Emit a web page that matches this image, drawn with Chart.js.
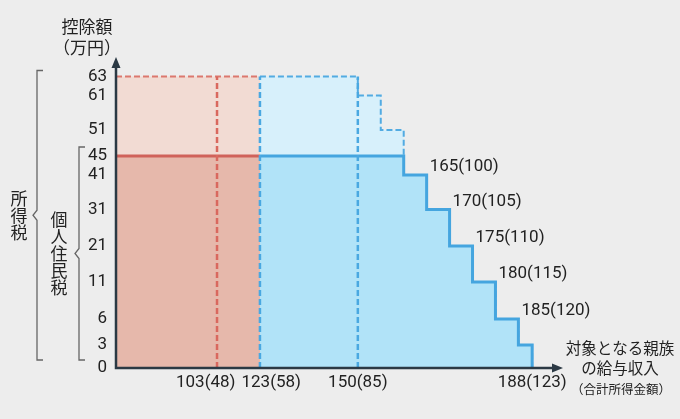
<!DOCTYPE html>
<html lang="ja">
<head>
<meta charset="utf-8">
<script src="https://cdn.jsdelivr.net/npm/chart.js@4.4.1/dist/chart.umd.min.js"></script>
<style>
  body { margin: 0; background: #ededed; }
</style>
</head>
<body>
<canvas id="deduction-chart" width="680" height="419"></canvas>
<script>
// y axis tick labels (万円)
const yTicks = [0, 3, 6, 11, 21, 31, 41, 45, 51, 61, 63];
// x axis labels: salary and (total income) in 万円
const xSalary = [103, 123, 150, 188];
const xIncome = [48, 58, 85, 123];
// labels along the staircase
const stepSalary = [165, 170, 175, 180, 185];
const stepIncome = [100, 105, 110, 115, 120];

// each segment starts at this salary; deduction amounts per segment
const segStart = [0, 123, 150, 155, 160, 165, 170, 175, 180, 185];
const incomeTax = [63, 63, 61, 51, 41, 31, 21, 11, 6, 3];   // 所得税
const residentTax = [45, 45, 45, 45, 41, 31, 21, 11, 6, 3]; // 個人住民税
const salaryEnd = 188;
const oldLimit = 123; // 扶養控除 up to here, then the new deduction
const dashedSalary = [103, 123, 150];

// the figure uses uneven spacing: [value, fraction of axis length]
const xBreaks = [[0, 0], [103, 0.226], [123, 0.322], [150, 0.541], [188, 0.931], [194.4, 1]];
const yBreaks = [[0, 0], [3, 0.074], [6, 0.1576], [11, 0.2765], [21, 0.3923], [31, 0.5096],
                 [41, 0.6206], [45, 0.6817], [51, 0.7653], [61, 0.8762], [63, 0.9373], [66, 1]];

function warp(breaks, v, a, b) {
    for (let i = 1; i < breaks.length; i++) {
        const p = breaks[i - 1], q = breaks[i];
        if (v <= q[a] || i === breaks.length - 1) {
            return p[b] + (v - p[a]) / (q[a] - p[a]) * (q[b] - p[b]);
        }
    }
}

class BrokenScale extends Chart.LinearScale {
    getPixelForValue(value) {
        const br = this.axis === "x" ? xBreaks : yBreaks;
        return this.getPixelForDecimal(warp(br, value, 0, 1));
    }
    getValueForPixel(pixel) {
        const br = this.axis === "x" ? xBreaks : yBreaks;
        return warp(br, this.getDecimalForPixel(pixel), 1, 0);
    }
}
BrokenScale.id = "broken";
BrokenScale.defaults = Chart.LinearScale.defaults;
Chart.register(BrokenScale);

// build stepped points for salaries in [lo, hi)
function stepData(values, lo, hi, endY) {
    const pts = segStart.map((s, i) => ({ x: s, y: values[i] })).filter(p => p.x >= lo && p.x < hi);
    pts.push({ x: hi, y: endY === undefined ? pts[pts.length - 1].y : endY });
    return pts;
}

const RED = "#d0625a";
const BLUE = "#45a5df";
const TEXT = "#222";
const JP = '"Noto Sans CJK JP", sans-serif';
const NUM = 'Roboto, "Noto Sans CJK JP", sans-serif';

const datasets = [
    {
        data: stepData(incomeTax, 0, oldLimit), stepped: "before", fill: "origin",
        borderColor: "#dc786e", borderDash: [6, 3], borderWidth: 2, backgroundColor: "#f2dbd3", order: 6
    },
    {
        data: stepData(residentTax, 0, oldLimit), stepped: "before", fill: "origin",
        borderColor: RED, borderWidth: 3, backgroundColor: "#e6b8ab", order: 5
    },
    {
        data: stepData(incomeTax, oldLimit, salaryEnd, 0), stepped: "before", fill: "origin",
        borderColor: "#52abe2", borderDash: [6, 3], borderWidth: 2, backgroundColor: "#d7f0fb", order: 4
    },
    {
        data: stepData(residentTax, oldLimit, salaryEnd, 0), stepped: "before", fill: "origin",
        borderColor: BLUE, borderWidth: 3, backgroundColor: "#b1e3f8", order: 3
    }
];
dashedSalary.forEach(s => {
    const top = incomeTax[segStart.filter(v => v <= s).length - 1];
    datasets.push({
        data: [{ x: s, y: 0 }, { x: s, y: Math.max(top, incomeTax[segStart.filter(v => v < s).length - 1]) }], fill: false,
        borderColor: s < oldLimit ? "#d9685e" : "#4aa8e1", borderDash: [6, 3], borderWidth: 2.5, order: 1
    });
});

function vertText(ctx, text, x, midY, step) {
    const chars = [...text];
    chars.forEach((c, i) => ctx.fillText(c, x, midY + (i - (chars.length - 1) / 2) * step));
}

function bracket(ctx, x, top, bottom) {
    const mid = (top + bottom) / 2;
    ctx.beginPath();
    ctx.moveTo(x + 6, top);
    ctx.lineTo(x, top);
    ctx.lineTo(x, mid - 5);
    ctx.lineTo(x - 4, mid);
    ctx.lineTo(x, mid + 5);
    ctx.lineTo(x, bottom);
    ctx.lineTo(x + 6, bottom);
    ctx.stroke();
    return mid;
}

const decor = {
    id: "decor",
    afterDraw(chart) {
        const { ctx, chartArea: a, scales: { x, y } } = chart;
        ctx.save();

        // axes with arrow heads
        ctx.strokeStyle = "#2b3944";
        ctx.fillStyle = "#2b3944";
        ctx.lineWidth = 2.5;
        ctx.beginPath();
        ctx.moveTo(a.left, a.bottom + 1.25);
        ctx.lineTo(a.left, a.top + 8);
        ctx.moveTo(a.left - 1.25, a.bottom);
        ctx.lineTo(a.right - 8, a.bottom);
        ctx.stroke();
        ctx.beginPath();
        ctx.moveTo(a.left, a.top);
        ctx.lineTo(a.left - 4.5, a.top + 11);
        ctx.lineTo(a.left + 4.5, a.top + 11);
        ctx.closePath();
        ctx.moveTo(a.right, a.bottom);
        ctx.lineTo(a.right - 11, a.bottom - 4.5);
        ctx.lineTo(a.right - 11, a.bottom + 4.5);
        ctx.closePath();
        ctx.fill();

        // x labels, pushed apart where they would collide
        ctx.fillStyle = TEXT;
        ctx.font = "17px " + NUM;
        ctx.textBaseline = "middle";
        ctx.textAlign = "center";
        const items = xSalary.map((s, i) => ({ text: `${s}(${xIncome[i]})`, cx: x.getPixelForValue(s) }));
        items.forEach(it => { it.w = ctx.measureText(it.text).width; });
        for (let i = 1; i < items.length; i++) {
            const p = items[i - 1], q = items[i];
            const over = (p.cx + p.w / 2 + 6) - (q.cx - q.w / 2);
            if (over > 0) { p.cx -= over / 2; q.cx += over / 2; }
        }
        items.forEach(it => ctx.fillText(it.text, it.cx, a.bottom + 15));

        // staircase labels
        ctx.textAlign = "left";
        stepSalary.forEach((s, i) => {
            const seg = segStart.filter(v => v < s).length - 1;
            ctx.fillText(`${s}(${stepIncome[i]})`, x.getPixelForValue(s) + 3, y.getPixelForValue(residentTax[seg]) - 8);
        });

        // axis titles
        ctx.textAlign = "center";
        ctx.font = "17px " + JP;
        ctx.fillText("控除額", a.left - 29, 27);
        ctx.fillText("（万円）", a.left - 29, 48);
        ctx.font = "15.5px " + JP;
        ctx.fillText("対象となる親族", 620, 348);
        ctx.fillText("の給与収入", 620, 368);
        ctx.font = "12.5px " + JP;
        ctx.fillText("（合計所得金額）", 621, 389);

        // brackets on the left
        ctx.strokeStyle = "#666";
        ctx.lineWidth = 1.3;
        const bottom = y.getPixelForValue(0) - 8;
        const m1 = bracket(ctx, 37, y.getPixelForValue(63) - 6, bottom);
        const m2 = bracket(ctx, 79, y.getPixelForValue(45) - 9, bottom);
        ctx.font = "17px " + JP;
        vertText(ctx, "所得税", 19, m1, 17);
        vertText(ctx, "個人住民税", 59, m2, 17);

        ctx.restore();
    }
};

new Chart(document.getElementById("deduction-chart"), {
    type: "line",
    data: { datasets: datasets },
    options: {
        responsive: false,
        animation: false,
        events: [],
        elements: { point: { radius: 0 } },
        layout: { padding: { left: 0, right: 117, top: 57, bottom: 0 } },
        plugins: { legend: { display: false }, tooltip: { enabled: false } },
        scales: {
            x: {
                type: "broken", min: 0, max: 194.4,
                grid: { display: false, drawTicks: false }, border: { display: false },
                ticks: { display: false },
                afterFit: s => { s.height = 51; }
            },
            y: {
                type: "broken", min: 0, max: 66,
                grid: { display: false, drawTicks: false }, border: { display: false },
                afterBuildTicks: s => { s.ticks = yTicks.map(v => ({ value: v })); },
                ticks: { padding: 9, color: TEXT, font: { family: NUM, size: 17 } },
                afterFit: s => { s.width = 116; }
            }
        }
    },
    plugins: [decor]
});
</script>
</body>
</html>
